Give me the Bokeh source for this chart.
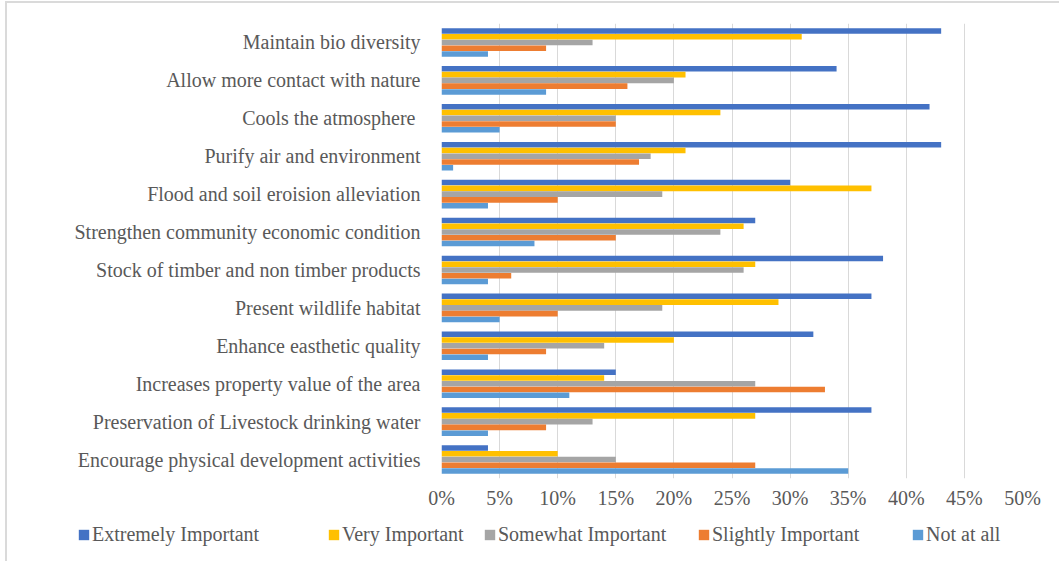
from bokeh.plotting import figure
from bokeh.models import (ColumnDataSource, FactorRange, Legend, LegendItem,
                          NumeralTickFormatter, FixedTicker)
from bokeh.transform import dodge
from bokeh.embed import file_html
from bokeh.resources import INLINE

# Survey categories (top to bottom)
categories = [
    "Maintain bio diversity",
    "Allow more contact with nature",
    "Cools the atmosphere ",
    "Purify air and environment",
    "Flood and soil eroision alleviation",
    "Strengthen community economic condition",
    "Stock of timber and non timber products",
    "Present wildlife habitat",
    "Enhance easthetic quality",
    "Increases property value of the area",
    "Preservation of Livestock drinking water",
    "Encourage physical development activities",
]

# Share of respondents per rating (percent)
extremely_important = [43, 34, 42, 43, 30, 27, 38, 37, 32, 15, 37, 4]
very_important = [31, 21, 24, 21, 37, 26, 27, 29, 20, 14, 27, 10]
somewhat_important = [13, 20, 15, 18, 19, 24, 26, 19, 14, 27, 13, 15]
slightly_important = [9, 16, 15, 17, 10, 15, 6, 10, 9, 33, 9, 27]
not_at_all = [4, 9, 5, 1, 4, 8, 4, 5, 4, 11, 4, 35]

series_names = ["Extremely Important", "Very Important", "Somewhat Important",
                "Slightly Important", "Not at all"]
series_values = [extremely_important, very_important, somewhat_important,
                 slightly_important, not_at_all]
series_colors = ["#4472C4", "#FFC000", "#A5A5A5", "#ED7D31", "#5B9BD5"]

x_tick_percents = [0, 5, 10, 15, 20, 25, 30, 35, 40, 45, 50]

FONT = "Liberation Serif"
FONT_SIZE = "20px"
TEXT_COLOR = "#595959"
GRID_COLOR = "#d9d9d9"
BORDER = "2px solid #dadada"

# ---- main bar chart -------------------------------------------------------
p = figure(
    width=1054, height=520,
    y_range=FactorRange(factors=list(reversed(categories)), range_padding=0),
    x_range=(0, 0.5),
    output_backend="svg", toolbar_location=None,
    min_border_left=434, min_border_right=39,
    min_border_top=20, min_border_bottom=45,
)
p.styles = {"border-top": BORDER, "border-left": BORDER,
            "margin-left": "5px", "margin-top": "1px"}
p.outline_line_color = None
p.background_fill_color = "white"
p.border_fill_color = "white"

bar_step = 0.152
offsets = [2 * bar_step, bar_step, 0.0, -bar_step, -2 * bar_step]

for name, vals, color, off in zip(series_names, series_values, series_colors, offsets):
    src = ColumnDataSource(dict(cat=categories, val=[v / 100 for v in vals]))
    p.hbar(y=dodge("cat", off, range=p.y_range), left=0, right="val",
           height=bar_step * 0.96, source=src,
           fill_color=color, line_color=None)

p.xaxis.ticker = FixedTicker(ticks=[t / 100 for t in x_tick_percents])
p.xaxis.formatter = NumeralTickFormatter(format="0%")
p.xaxis.axis_line_color = None
p.xaxis.major_tick_line_color = None
p.xaxis.minor_tick_line_color = None
p.xaxis.major_label_standoff = 2
p.xaxis.major_label_text_font = FONT
p.xaxis.major_label_text_font_size = FONT_SIZE
p.xaxis.major_label_text_color = TEXT_COLOR

p.yaxis.axis_line_color = None
p.yaxis.major_tick_line_color = None
p.yaxis.minor_tick_line_color = None
p.yaxis.major_label_standoff = 15
p.yaxis.major_label_text_font = FONT
p.yaxis.major_label_text_font_size = FONT_SIZE
p.yaxis.major_label_text_color = TEXT_COLOR

p.ygrid.grid_line_color = None
p.xgrid.grid_line_color = GRID_COLOR
p.xgrid.grid_line_width = 1

# ---- legend strip -----------------------------------------------------------
q = figure(
    width=1054, height=40,
    x_range=(0, 1), y_range=(0, 1),
    x_axis_type=None, y_axis_type=None,
    output_backend="svg", toolbar_location=None,
    min_border=0,
)
q.styles = {"border-left": BORDER, "margin-left": "5px"}
q.outline_line_color = None
q.grid.grid_line_color = None
q.border_fill_color = "white"
q.background_fill_color = "white"

# hidden copies of each series act as legend swatches
legend_x = [70, 320, 476, 690, 904]
for name, vals, color, lx in zip(series_names, series_values, series_colors, legend_x):
    src = ColumnDataSource(dict(pos=list(range(len(categories))),
                                val=[v / 100 for v in vals]))
    swatch = q.hbar(y="pos", left=0, right="val", height=0.5, source=src,
                    fill_color=color, line_color=None, visible=False)
    q.add_layout(Legend(
        items=[LegendItem(label=name, renderers=[swatch])],
        location=(lx, 15),
        glyph_width=13, glyph_height=13,
        label_standoff=2, padding=0, margin=0,
        label_text_font=FONT, label_text_font_size=FONT_SIZE,
        label_text_color=TEXT_COLOR,
        border_line_color=None, background_fill_alpha=0,
        inactive_fill_alpha=0,
    ), "center")

open("out.html", "w").write(file_html([p, q], INLINE))
